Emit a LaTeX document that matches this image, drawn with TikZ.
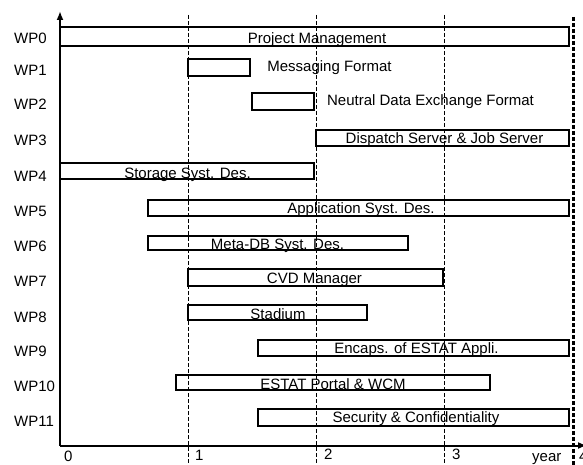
\documentclass[tikz,border=0pt]{standalone}
\usepackage{fontspec}
\setmainfont{Liberation Sans}
\usetikzlibrary{arrows.meta}
\begin{document}
\begin{tikzpicture}[x=1pt,y=-1pt, font=\fontsize{15}{18}\selectfont,
 bar/.style={line width=1.8pt},
 yearline/.style={line width=0.8pt, dash pattern=on 4pt off 2pt},
 endline/.style={line width=3pt, dash pattern=on 4pt off 2pt},
 lbl/.style={anchor=base, inner sep=0pt},
 wp/.style={anchor=base west, inner sep=0pt},
 axisline/.style={line width=2pt}]
\useasboundingbox (0,0) rectangle (583,465);
% year lines
\coordinate (y1t) at (188,15); \coordinate (y1b) at (188,465);
\coordinate (y2t) at (316,15); \coordinate (y2b) at (316,465);
\coordinate (y3t) at (444,15); \coordinate (y3b) at (444,465);
\coordinate (y4t) at (573,17); \coordinate (y4b) at (573,465);
\draw[yearline] (y1t) -- (y1b);
\draw[yearline] (y2t) -- (y2b);
\draw[yearline] (y3t) -- (y3b);
\draw[endline] (y4t) -- (y4b);
% axes
\coordinate (O) at (60,445.5);
\coordinate (ytop) at (60,11);
\coordinate (xend) at (587,445.5);
\draw[axisline,-{Latex[length=9pt,width=7pt]}] (O) -- (ytop);
\draw[axisline,-{Latex[length=9pt,width=7pt]}] (O) -- (xend);
% bars
\draw[bar] (60,27) rectangle (569,46);
\draw[bar] (188,59) rectangle (250,76);
\draw[bar] (252,93) rectangle (314,110);
\draw[bar] (316,130) rectangle (569,146);
\draw[bar] (60,163) rectangle (314,179);
\draw[bar] (148,200) rectangle (569,216);
\draw[bar] (148,236) rectangle (408,250);
\draw[bar] (188,269) rectangle (443,286);
\draw[bar] (188,305) rectangle (367,320);
\draw[bar] (258,340) rectangle (569,356);
\draw[bar] (176,375) rectangle (490,390);
\draw[bar] (258,409) rectangle (569,426);
% bar labels
\node[lbl] (t0) at (317,44) {Project Management};
\node[lbl] (t1) at (329.5,72) {Messaging Format};
\node[lbl] (t2) at (430.5,106) {Neutral Data Exchange Format};
\node[lbl] (t3) at (444.5,143.5) {Dispatch Server \& Job Server};
\node[lbl] (t4) at (187.5,178.5) {Storage Syst. Des.};
\node[lbl] (t5) at (361,213) {Application Syst. Des.};
\node[lbl] (t6) at (277.5,249) {Meta-DB Syst. Des.};
\node[lbl] (t7) at (314.5,283) {CVD Manager};
\node[lbl] (t8) at (278,319) {Stadium};
\node[lbl] (t9) at (416.5,353) {Encaps. of ESTAT Appli.};
\node[lbl] (t10) at (333,389) {ESTAT Portal \& WCM};
\node[lbl] (t11) at (416,422) {Security \& Confidentiality};
% row labels
\node[wp] (w0) at (14,43.3) {WP0};
\node[wp] (w1) at (14,76) {WP1};
\node[wp] (w2) at (14,110) {WP2};
\node[wp] (w3) at (14,146) {WP3};
\node[wp] (w4) at (14,181.5) {WP4};
\node[wp] (w5) at (14,216) {WP5};
\node[wp] (w6) at (14,251.5) {WP6};
\node[wp] (w7) at (14,286.5) {WP7};
\node[wp] (w8) at (14,322) {WP8};
\node[wp] (w9) at (14,356) {WP9};
\node[wp] (w10) at (14,391.5) {WP10};
\node[wp] (w11) at (14,426) {WP11};
% tick labels
\node[wp] (x0) at (64,461) {0};
\node[wp] (x1) at (195,460) {1};
\node[wp] (x2) at (324,459) {2};
\node[wp] (x3) at (452,459) {3};
\node[wp] (xy) at (532,461) {year};
\node[wp] (x4) at (579,461) {4};
\end{tikzpicture}
\end{document}
